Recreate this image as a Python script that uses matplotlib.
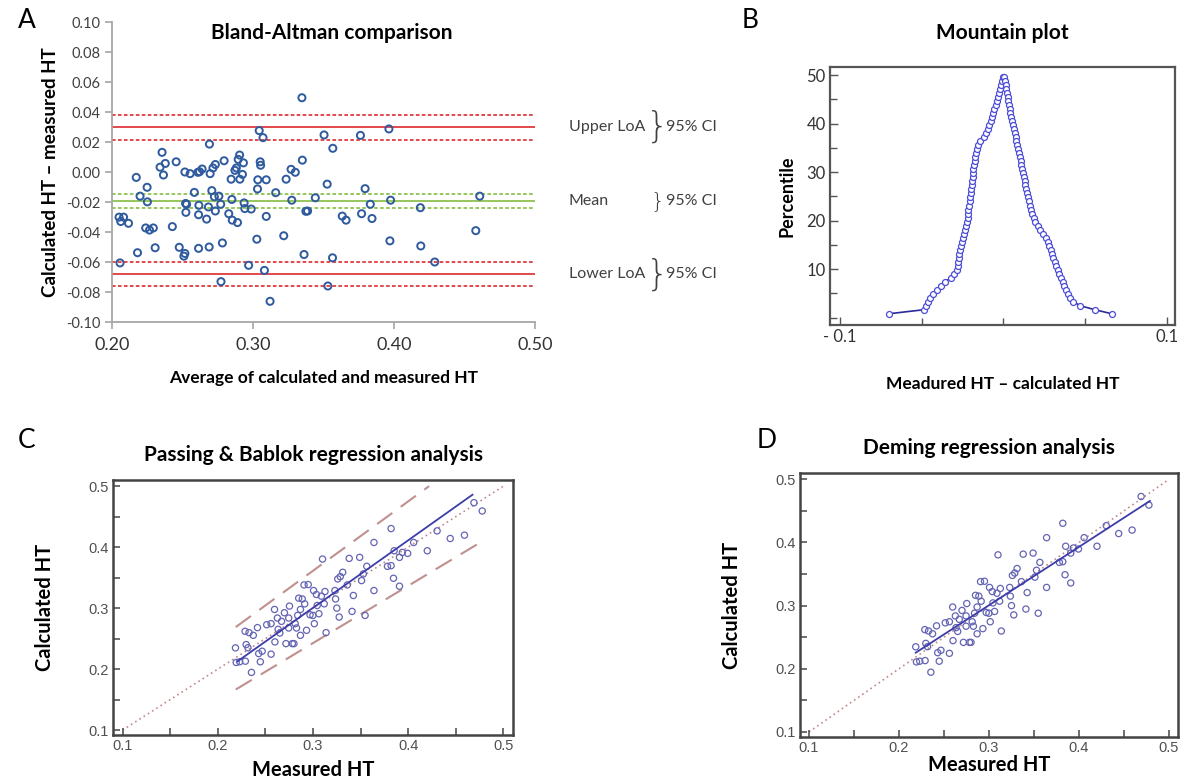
import numpy as np
import matplotlib
matplotlib.use("Agg")
import matplotlib.pyplot as plt
from matplotlib.transforms import blended_transform_factory
from matplotlib.ticker import FixedLocator

W, H = 1192, 780

# Panel A: Bland-Altman (average, difference)
ba_avg = [0.2050, 0.2062, 0.2082, 0.2117, 0.2057, 0.2172, 0.2181, 0.2199, 0.2249, 0.2251,
          0.2239, 0.2266, 0.2293, 0.2306, 0.2341, 0.2355, 0.2378, 0.2365, 0.2428, 0.2455,
          0.2477, 0.2510, 0.2517, 0.2522, 0.2529, 0.2524, 0.2517, 0.2554, 0.2584, 0.2609,
          0.2621, 0.2639, 0.2616, 0.2614, 0.2614, 0.2671, 0.2684, 0.2696, 0.2708, 0.2716,
          0.2691, 0.2689, 0.2733, 0.2726, 0.2733, 0.2758, 0.2771, 0.2783, 0.2773, 0.2795,
          0.2828, 0.2845, 0.2850, 0.2853, 0.2872, 0.2882, 0.2895, 0.2905, 0.2907, 0.2925,
          0.2932, 0.2890, 0.2937, 0.2942, 0.2987, 0.2969, 0.3027, 0.3032, 0.3034, 0.3044,
          0.3051, 0.3054, 0.3071, 0.3081, 0.3094, 0.3094, 0.3121, 0.3161, 0.3218, 0.3235,
          0.3270, 0.3300, 0.3275, 0.3347, 0.3350, 0.3362, 0.3375, 0.3387, 0.3442, 0.3504,
          0.3526, 0.3531, 0.3566, 0.3564, 0.3633, 0.3660, 0.3762, 0.3770, 0.3795, 0.3832,
          0.3844, 0.3964, 0.3976, 0.3971, 0.4187, 0.4190, 0.4289, 0.4580, 0.4608]
ba_diff = [-0.0301, -0.0330, -0.0301, -0.0342, -0.0606, -0.0036, -0.0538, -0.0161, -0.0102, -0.0199,
           -0.0373, -0.0387, -0.0373, -0.0505, 0.0032, 0.0131, 0.0057, -0.0020, -0.0364, 0.0068,
           -0.0502, -0.0561, -0.0543, -0.0210, -0.0215, -0.0269, 0.0000, -0.0011, -0.0136, -0.0002,
           0.0002, 0.0020, -0.0222, -0.0285, -0.0509, -0.0314, -0.0233, -0.0011, -0.0124, 0.0027,
           0.0186, -0.0500, 0.0050, -0.0165, -0.0260, -0.0161, -0.0215, -0.0473, -0.0731, 0.0075,
           -0.0278, -0.0048, -0.0183, -0.0321, 0.0011, 0.0027, 0.0084, 0.0113, -0.0048, -0.0016,
           0.0061, -0.0337, -0.0206, -0.0244, -0.0247, -0.0622, -0.0448, -0.0113, -0.0052, 0.0276,
           0.0068, 0.0045, 0.0229, -0.0656, -0.0052, -0.0296, -0.0862, -0.0138, -0.0425, -0.0048,
           0.0018, -0.0002, -0.0188, 0.0495, 0.0079, -0.0550, -0.0262, -0.0260, -0.0172, 0.0247,
           -0.0081, -0.0760, 0.0158, -0.0572, -0.0294, -0.0321, 0.0244, -0.0278, -0.0111, -0.0215,
           -0.0310, 0.0287, -0.0188, -0.0459, -0.0238, -0.0493, -0.0600, -0.0391, -0.0161]
# (upper 95% CI, estimate, lower 95% CI)
ba_upper_loa = [0.0378, 0.0300, 0.0216]
ba_mean = [-0.0144, -0.0193, -0.0239]
ba_lower_loa = [-0.0602, -0.0683, -0.0763]
ba_labels = ["Upper LoA", "Mean", "Lower LoA"]

# Panel B: sorted differences (measured - calculated) for the mountain plot
mountain_diffs = [-0.0698, -0.0485, -0.0470, -0.0460, -0.0450, -0.0430, -0.0405, -0.0380, -0.0355, -0.0320,
                  -0.0300, -0.0285, -0.0280, -0.0276, -0.0273, -0.0270, -0.0266, -0.0260, -0.0253, -0.0246,
                  -0.0240, -0.0232, -0.0226, -0.0222, -0.0219, -0.0216, -0.0213, -0.0210, -0.0206, -0.0203,
                  -0.0200, -0.0197, -0.0194, -0.0191, -0.0188, -0.0186, -0.0183, -0.0180, -0.0176, -0.0172,
                  -0.0168, -0.0163, -0.0157, -0.0140, -0.0118, -0.0104, -0.0094, -0.0085, -0.0077, -0.0070,
                  -0.0062, -0.0054, -0.0047, -0.0040, -0.0033, -0.0027, -0.0021, -0.0015, -0.0009, -0.0003,
                  0.0004, 0.0009, 0.0014, 0.0018, 0.0022, 0.0026, 0.0030, 0.0034, 0.0038, 0.0042,
                  0.0047, 0.0052, 0.0058, 0.0064, 0.0070, 0.0075, 0.0080, 0.0085, 0.0090, 0.0095,
                  0.0099, 0.0106, 0.0109, 0.0116, 0.0121, 0.0124, 0.0131, 0.0134, 0.0141, 0.0146,
                  0.0150, 0.0156, 0.0163, 0.0170, 0.0178, 0.0186, 0.0196, 0.0210, 0.0226, 0.0245,
                  0.0260, 0.0272, 0.0281, 0.0290, 0.0298, 0.0306, 0.0314, 0.0322, 0.0332, 0.0343,
                  0.0353, 0.0363, 0.0372, 0.0382, 0.0393, 0.0408, 0.0428, 0.0470, 0.0560, 0.0662]

# Panels C and D: measured vs calculated HT
meas_ht = [0.2186, 0.2194, 0.2230, 0.2290, 0.2287, 0.2298, 0.2328, 0.2317, 0.2373, 0.2354,
           0.2417, 0.2430, 0.2447, 0.2466, 0.2514, 0.2560, 0.2560, 0.2596, 0.2600, 0.2626,
           0.2634, 0.2652, 0.2670, 0.2700, 0.2716, 0.2753, 0.2745, 0.2745, 0.2783, 0.2800,
           0.2813, 0.2827, 0.2839, 0.2850, 0.2868, 0.2868, 0.2887, 0.2906, 0.2913, 0.2932,
           0.2950, 0.2969, 0.2999, 0.3006, 0.3014, 0.3036, 0.3044, 0.3062, 0.3088, 0.3100,
           0.3118, 0.3126, 0.3137, 0.3230, 0.3237, 0.3250, 0.3260, 0.3286, 0.3312, 0.3275,
           0.3360, 0.3380, 0.3424, 0.3410, 0.3490, 0.3510, 0.3528, 0.3547, 0.3565, 0.3640,
           0.3640, 0.3782, 0.3820, 0.3820, 0.3845, 0.3852, 0.3908, 0.3908, 0.3938, 0.3994,
           0.4057, 0.4200, 0.4303, 0.4441, 0.4590, 0.4690, 0.4777]
calc_ht = [0.2348, 0.2109, 0.2120, 0.2130, 0.2620, 0.2402, 0.2598, 0.2350, 0.2554, 0.1946,
           0.2680, 0.2255, 0.2120, 0.2293, 0.2728, 0.2245, 0.2745, 0.2978, 0.2446, 0.2837,
           0.2652, 0.2592, 0.2783, 0.2924, 0.2418, 0.3033, 0.2674, 0.2837, 0.2418, 0.2418,
           0.2745, 0.2674, 0.2880, 0.3163, 0.2978, 0.2554, 0.3150, 0.3380, 0.3070, 0.2636,
           0.3386, 0.2891, 0.2880, 0.3288, 0.2745, 0.3223, 0.3043, 0.2908, 0.3196, 0.3804,
           0.3070, 0.3272, 0.2598, 0.3288, 0.3150, 0.3000, 0.3478, 0.3516, 0.3587, 0.2853,
           0.3380, 0.3815, 0.3207, 0.2946, 0.3832, 0.3451, 0.3560, 0.2880, 0.3685, 0.3288,
           0.4076, 0.3685, 0.3696, 0.4304, 0.3489, 0.3940, 0.3832, 0.3359, 0.3913, 0.3897,
           0.4076, 0.3940, 0.4266, 0.4141, 0.4196, 0.4728, 0.4592]

# fitted lines as (intercept, slope, x start, x end)
pb_fit = (-0.0316, 1.107, 0.2208, 0.4675)
pb_ci_upper = (0.0198, 1.138, 0.2189, 0.4219)
pb_ci_lower = (-0.0390, 0.939, 0.2189, 0.4755)
deming_fit = (0.0236, 0.9235, 0.2186, 0.4788)
identity = (0.0, 1.0, 0.10, 0.50)

TITLE_FONT = "Lato"
TICK_GREY = "#505050"


def px_axes(fig, left, top, right, bottom):
    return fig.add_axes([left / W, 1 - bottom / H, (right - left) / W, (bottom - top) / H])


def draw_line(ax, fit, **kw):
    b, m, x0, x1 = fit
    xs = np.array([x0, x1])
    ax.plot(xs, b + m * xs, **kw)


fig = plt.figure(figsize=(W / 100, H / 100), dpi=100)

# ---------------- A: Bland-Altman ----------------
ax = px_axes(fig, 112, 22, 535, 322)
ax.scatter(ba_avg, ba_diff, s=26, facecolors="none", edgecolors="#2f5b9e", linewidths=1.4, zorder=3)
for vals, col in zip([ba_upper_loa, ba_mean, ba_lower_loa], ["#e0393e", "#8dc14f", "#e0393e"]):
    ax.axhline(vals[1], color=col, lw=1.3, zorder=2)
    ax.axhline(vals[0], color=col, lw=1.3, ls=(0, (2, 1.3)), zorder=2)
    ax.axhline(vals[2], color=col, lw=1.3, ls=(0, (2, 1.3)), zorder=2)
ax.set_xlim(0.2, 0.5)
ax.set_ylim(-0.1, 0.1)
ax.set_xticks([0.2, 0.3, 0.4, 0.5])
ax.set_xticklabels(["0.20", "0.30", "0.40", "0.50"], fontsize=13, family=TITLE_FONT, color="#333333")
yt = np.round(np.arange(-0.10, 0.101, 0.02), 2)
ax.set_yticks(yt)
ax.set_yticklabels([f"{v:.2f}" for v in yt], fontsize=10.5, family=TITLE_FONT, color="#404040")
for s in ["top", "right"]:
    ax.spines[s].set_visible(False)
for s in ["left", "bottom"]:
    ax.spines[s].set_color("#a6a6a6")
    ax.spines[s].set_linewidth(1.3)
ax.tick_params(axis="both", direction="out", length=5, width=1.2, color="#a6a6a6")
ax.tick_params(axis="x", pad=6)
ax.set_ylabel("Calculated HT \u2013 measured HT", fontsize=13.5, fontweight="bold", family=TITLE_FONT,
              labelpad=5)
ax.set_xlabel("Average of calculated and measured HT", fontsize=12.5, fontweight="bold",
              family=TITLE_FONT, labelpad=12)
ax.text(0.52, 0.963, "Bland-Altman comparison", transform=ax.transAxes, ha="center", va="center",
        fontsize=15, fontweight="bold", family=TITLE_FONT)

trans = blended_transform_factory(ax.transAxes, ax.transData)
for vals, lab in zip([ba_upper_loa, ba_mean, ba_lower_loa], ba_labels):
    ax.text(1.08, vals[1], lab, transform=trans, ha="left", va="center", fontsize=11.5,
            family=TITLE_FONT, color="#404040", clip_on=False)
    span = vals[0] - vals[2]
    ax.text(1.29, vals[1], "}", transform=trans, ha="center", va="center",
            fontsize=26 if span > 0.01 else 16, family="DejaVu Sans", color="#404040",
            fontweight="light", clip_on=False)
    ax.text(1.31, vals[1], "95% CI", transform=trans, ha="left", va="center", fontsize=11.5,
            family=TITLE_FONT, color="#404040", clip_on=False)

fig.text(18 / W, 1 - 20 / H, "A", fontsize=19, family=TITLE_FONT, ha="left", va="center")

# ---------------- B: Mountain plot ----------------
ax = px_axes(fig, 830, 67, 1175, 325)
n = len(mountain_diffs)
pct = 100.0 * np.arange(1, n + 1) / (n + 1)
folded = np.where(pct > 50, 100 - pct, pct)
ax.plot(mountain_diffs, folded, color="#2a2a9c", lw=1.2, marker="o", ms=4.3, mfc="white",
        mec="#4b4bd6", mew=0.9)
ax.set_xlim(-0.106, 0.105)
ax.set_ylim(-1.5, 51.7)
ax.set_xticks([-0.1, 0.1])
ax.set_xticklabels(["- 0.1", "0.1"], fontsize=12, family=TITLE_FONT, color="#333333")
ax.xaxis.set_minor_locator(FixedLocator([-0.05, 0.0, 0.05]))
ax.set_yticks([10, 20, 30, 40, 50])
ax.set_yticklabels(["10", "20", "30", "40", "50"], fontsize=12, family=TITLE_FONT, color="#333333")
ax.yaxis.set_minor_locator(FixedLocator([0, 5, 15, 25, 35, 45]))
ax.tick_params(which="both", direction="in", color="#555555", width=1)
ax.tick_params(which="major", length=6, pad=3)
ax.tick_params(which="minor", length=5)
for s in ax.spines.values():
    s.set_color("#555555")
    s.set_linewidth(1.6)
ax.set_ylabel("Percentile", fontsize=13, fontweight="bold", family=TITLE_FONT, labelpad=8)
ax.set_xlabel("Meadured HT \u2013 calculated HT", fontsize=12.5, fontweight="bold",
              family=TITLE_FONT, labelpad=22)
ax.set_title("Mountain plot", fontsize=15, fontweight="bold", family=TITLE_FONT, pad=20)
fig.text(742 / W, 1 - 20 / H, "B", fontsize=19, family=TITLE_FONT, ha="left", va="center")


# ---------------- C and D: regression ----------------
def regression_panel(ax, fit, bands, title):
    draw_line(ax, identity, color="#c08a8a", lw=1.2, ls=(0, (1, 2)), zorder=1)
    for band in bands:
        draw_line(ax, band, color="#c09090", lw=1.5, ls=(0, (9, 5)), zorder=1)
    ax.scatter(meas_ht, calc_ht, s=20, facecolors="none", edgecolors="#6464b4", linewidths=0.9,
               zorder=2)
    draw_line(ax, fit, color="#3c3cab", lw=1.3, zorder=3)
    ax.set_xlim(0.09, 0.51)
    ax.set_ylim(0.092, 0.51)
    ticks = [0.1, 0.2, 0.3, 0.4, 0.5]
    ax.set_xticks(ticks)
    ax.set_yticks(ticks)
    ax.set_xticklabels([f"{t:.1f}" for t in ticks], fontsize=10.5, family="Liberation Sans",
                       color=TICK_GREY)
    ax.set_yticklabels([f"{t:.1f}" for t in ticks], fontsize=10.5, family="Liberation Sans",
                       color=TICK_GREY)
    ax.xaxis.set_minor_locator(FixedLocator([0.15, 0.25, 0.35, 0.45]))
    ax.yaxis.set_minor_locator(FixedLocator([0.15, 0.25, 0.35, 0.45]))
    ax.tick_params(which="both", direction="in", color="#555555", width=1.2)
    ax.tick_params(which="major", length=5, pad=3)
    ax.tick_params(which="minor", length=5)
    for s in ax.spines.values():
        s.set_color("#444444")
        s.set_linewidth(1.8)
    ax.set_ylabel("Calculated HT", fontsize=14.5, fontweight="bold", family=TITLE_FONT, labelpad=24)
    ax.set_title(title, fontsize=15, fontweight="bold", family=TITLE_FONT, pad=14)


ax = px_axes(fig, 113, 480, 513, 735)
regression_panel(ax, pb_fit, [pb_ci_upper, pb_ci_lower], "Passing & Bablok regression analysis")
ax.set_xlabel("Measured HT", fontsize=14.5, fontweight="bold", family=TITLE_FONT, labelpad=5)
fig.text(18 / W, 1 - 440 / H, "C", fontsize=19, family=TITLE_FONT, ha="left", va="center")

ax = px_axes(fig, 800, 473, 1178, 737)
regression_panel(ax, deming_fit, [], "Deming regression analysis")
ax.set_xlabel("Measured HT", fontsize=14.5, fontweight="bold", family=TITLE_FONT, labelpad=0)
fig.text(757 / W, 1 - 440 / H, "D", fontsize=19, family=TITLE_FONT, ha="left", va="center")

fig.savefig("out.png", dpi=100, facecolor="white")
